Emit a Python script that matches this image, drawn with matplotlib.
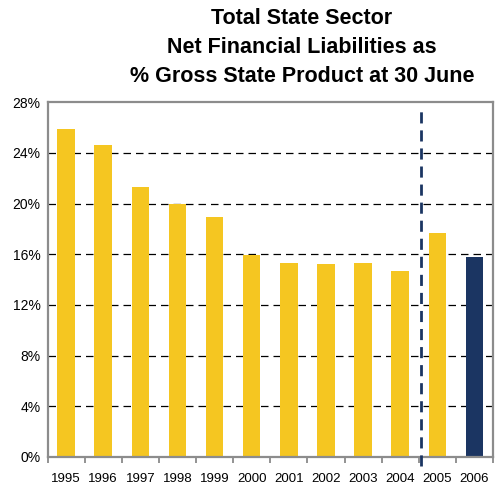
import numpy as np
import matplotlib
matplotlib.use("Agg")
import matplotlib.pyplot as plt
import matplotlib.ticker as ticker

plt.rcParams['font.family'] = ['Liberation Sans', 'DejaVu Sans']

years = ['1995', '1996', '1997', '1998', '1999', '2000',
         '2001', '2002', '2003', '2004', '2005', '2006']
liab = [25.9, 24.6, 21.3, 20.0, 18.9, 15.95, 15.3, 15.2, 15.3, 14.7, 17.7, 15.8]
bar_colors = ['#F5C621'] * 11 + ['#1B3562']
yticks = [0, 4, 8, 12, 16, 20, 24, 28]

fig = plt.figure(figsize=(4.95, 4.87), dpi=100)
ax = fig.add_axes([0.096, 0.062, 0.9, 0.728])

x = np.arange(len(years))
ax.bar(x, liab, width=0.47, color=bar_colors, zorder=2)

ax.set_xlim(-0.5, len(years) - 0.5)
ax.set_ylim(0, 28)
ax.set_yticks(yticks)
ax.yaxis.set_major_formatter(ticker.FuncFormatter(lambda v, p: f'{v:.0f}%'))
for v in yticks[1:-1]:
    ax.axhline(v, color='black', lw=0.9, ls=(0, (6, 4)), zorder=1)

# category labels centred, tick marks on the boundaries
ax.set_xticks(x)
ax.set_xticklabels(years)
ax.set_xticks(np.arange(-0.5, len(years)), minor=True)
ax.tick_params(axis='x', which='major', length=0, pad=12, labelsize=9.5)
ax.tick_params(axis='x', which='minor', length=4, color='#808080', width=1.2)
ax.tick_params(axis='y', length=0, pad=5, labelsize=10)

for s in ax.spines.values():
    s.set_color('#8C8C8C')
    s.set_linewidth(1.6)

# forecast divider
ax.axvline(9.55, ymin=-0.025, ymax=0.985, color='#1B3562', lw=2,
           ls=(0, (4, 2.5)), clip_on=False, zorder=3)

fig.text(0.61, 0.983, 'Total State Sector\nNet Financial Liabilities as\n% Gross State Product at 30 June',
         ha='center', va='top', fontsize=15.5, fontweight='bold', linespacing=1.5)

plt.savefig('out.png', dpi=100)
